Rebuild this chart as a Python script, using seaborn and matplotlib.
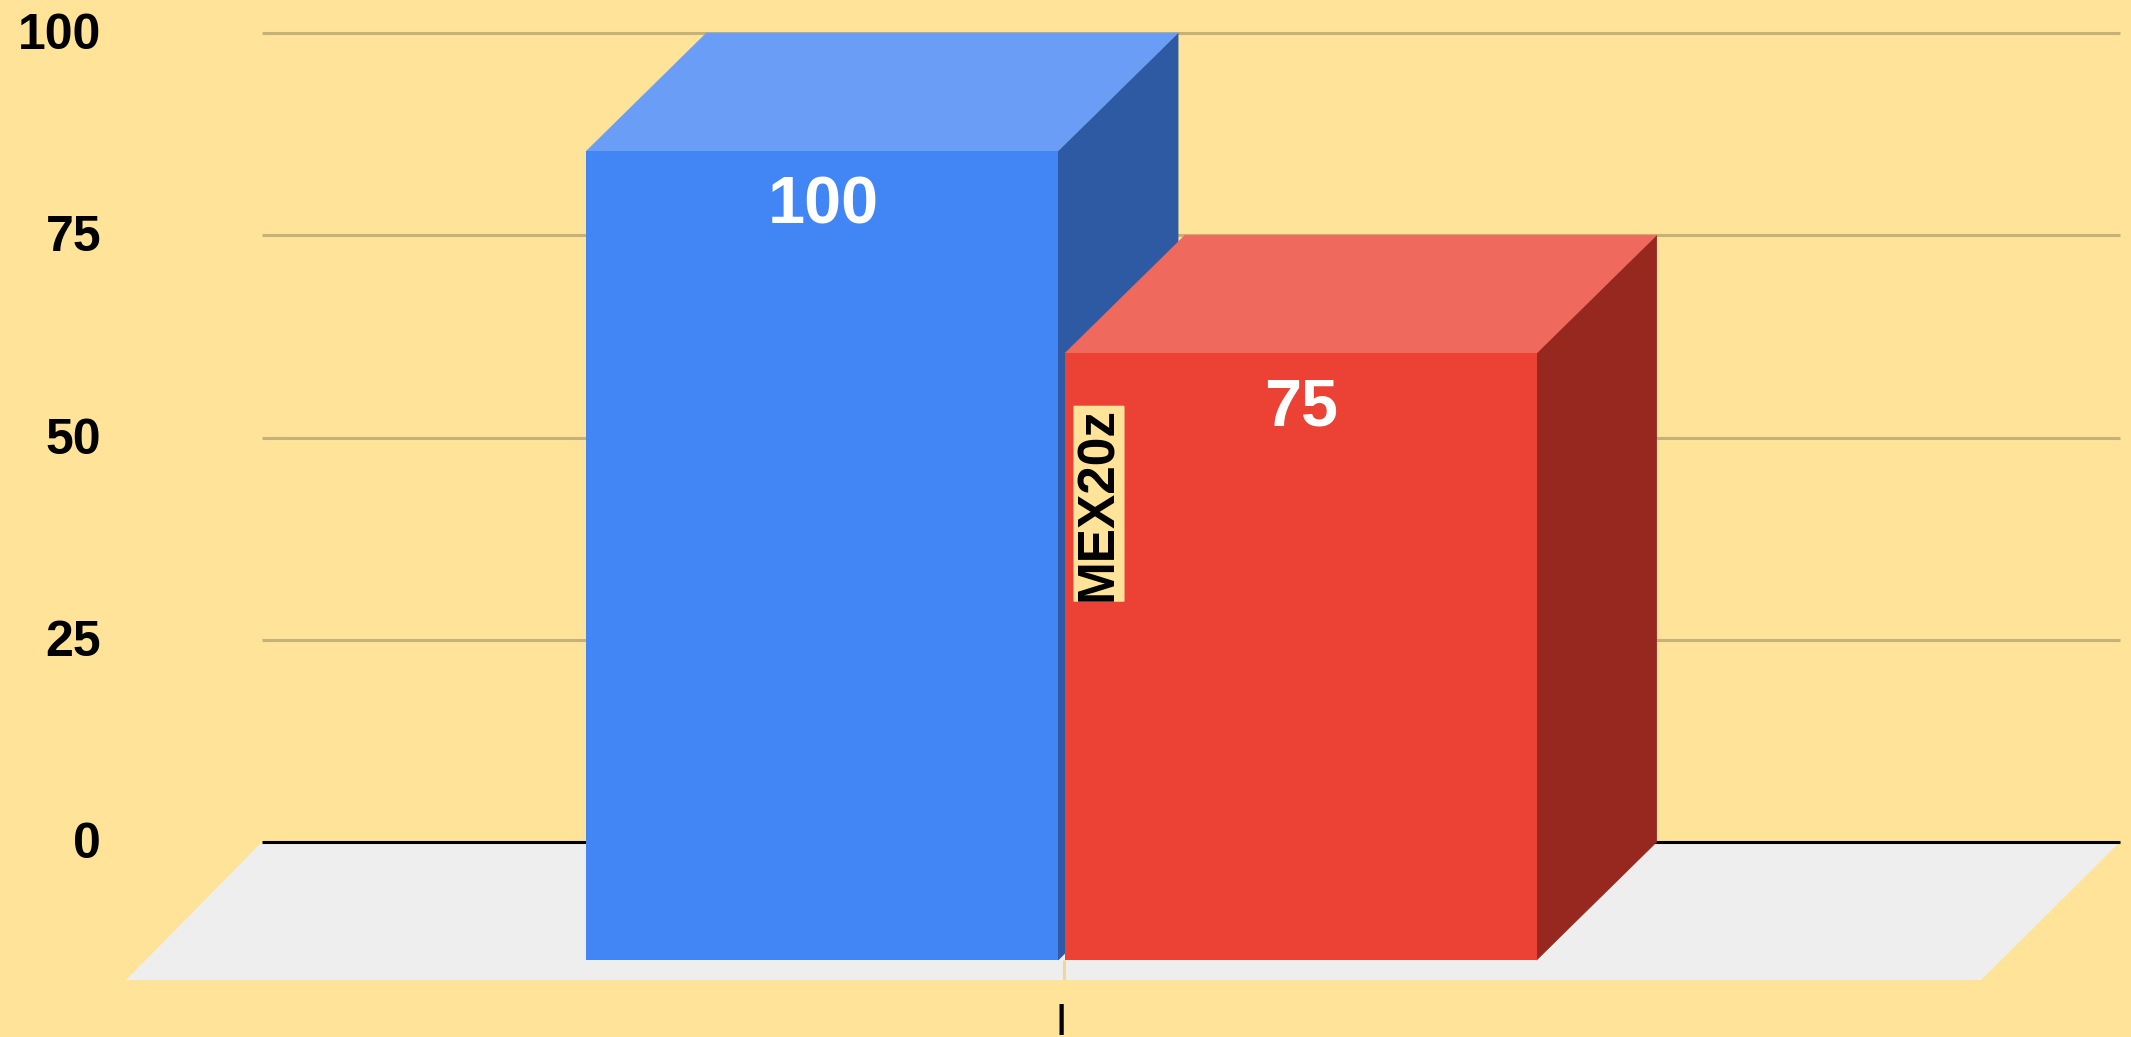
import matplotlib
matplotlib.use("Agg")
import matplotlib.pyplot as plt
from matplotlib.patches import Polygon
from matplotlib.transforms import ScaledTranslation
import numpy as np
import pandas as pd
import seaborn as sns

categories = ["|", "|"]
series = ["MEX20z", "Other"]
values = [100, 75]
value_labels = ["100", "75"]
grid_ticks = [0, 25, 50, 75, 100]
tick_labels = ["0", "25", "50", "75", "100"]
rotated_label = "MEX20z"

BG = "#FFE398"
FRONT = ["#4285F4", "#EC4135"]
TOP = ["#6A9EF6", "#F0695D"]
SIDE = ["#2D5AA3", "#962820"]
W, H = 2131, 1037

sns.set_theme(style="white")
plt.rcParams["font.family"] = ["Liberation Sans", "DejaVu Sans"]
plt.rcParams["font.weight"] = "bold"

fig = plt.figure(figsize=(W / 100, H / 100), dpi=100, facecolor=BG)
ax = fig.add_axes([126 / W, (H - 980) / H, (W - 126) / W, 980 / H])
ax.set_facecolor("none")

df = pd.DataFrame({"category": categories, "series": series, "value": values})
sns.barplot(data=df, x="category", y="value", hue="series", palette=FRONT,
            width=0.8, gap=0.0146, dodge=True, legend=False, saturation=1,
            ax=ax, zorder=5, linewidth=0)

# scales: pixels per data unit
PX = 1196.25
PY = 8.09
CX = 1061.5
ax.set_xlim((126 - CX) / PX, (W - CX) / PX)
ax.set_ylim(-20 / PY, 960 / PY)
dx, dy = 120 / PX, 118 / PY

# floor
fl, fr = (126 - CX) / PX, (1981 - CX) / PX
y0 = -20 / PY
ax.add_patch(Polygon([(fl, y0), (fr, y0), (fr + 139 / PX, dy), (fl + 136 / PX, dy)],
                     closed=True, fc="#EEEEEE", ec="none", zorder=1))
ax.plot([2 / PX, 2 / PX], [y0, 0], color="#F0D898", lw=2.2, zorder=1.5, solid_capstyle="butt")

# gridlines on the back wall
for g in grid_ticks:
    ax.plot([fl + 136 / PX, fr + 139 / PX], [g + dy, g + dy],
            color="black" if g == 0 else "#C4B27A", lw=2.2, zorder=2, solid_capstyle="butt")

# 3D faces from the bars themselves
bars = [p for p in ax.patches if p.get_zorder() == 5]
for i, b in enumerate(bars):
    x0, x1, h = b.get_x(), b.get_x() + b.get_width(), b.get_height()
    z = 3 + i * 3
    b.set_zorder(z + 0.2)
    ax.add_patch(Polygon([(x1, 0), (x1 + dx, dy), (x1 + dx, h + dy), (x1, h)],
                         closed=True, fc=SIDE[i], ec=SIDE[i], lw=0.6, zorder=z))
    ax.add_patch(Polygon([(x0, h), (x1, h), (x1 + dx, h + dy), (x0 + dx, h + dy)],
                         closed=True, fc=TOP[i], ec=TOP[i], lw=0.4, zorder=z + 0.1))
    ax.annotate(value_labels[i], xy=((x0 + x1) / 2, h), xytext=(0.5, -40), textcoords="offset points",
                ha="center", va="center", color="white", fontsize=48, fontweight="bold", zorder=z + 1)

# rotated label
blue = bars[0]
ax.text(blue.get_x() + blue.get_width() + 41 / PX, 56.4, rotated_label, rotation=90,
        ha="center", va="center", fontsize=37, fontweight="bold", color="black", zorder=12,
        bbox=dict(boxstyle="round,pad=0.02", fc=BG, ec="none"))

sns.despine(ax=ax, left=True, bottom=True, top=True, right=True)
ax.set_xlabel("")
ax.set_ylabel("")
ax.set_yticks([g + dy for g in grid_ticks], tick_labels)
ax.set_xticks([0], ["|"])
ax.tick_params(axis="y", length=0, pad=18, labelsize=36, colors="black")
ax.tick_params(axis="x", length=0, pad=17, labelsize=24, colors="black")
for t in ax.get_yticklabels():
    t.set_fontweight("bold")
    t.set_transform(t.get_transform() + ScaledTranslation(0, 2 / 100, fig.dpi_scale_trans))
for t in ax.get_xticklabels():
    t.set_fontweight("bold")
ax.grid(False)

fig.savefig("out.png", dpi=100, facecolor=BG)
